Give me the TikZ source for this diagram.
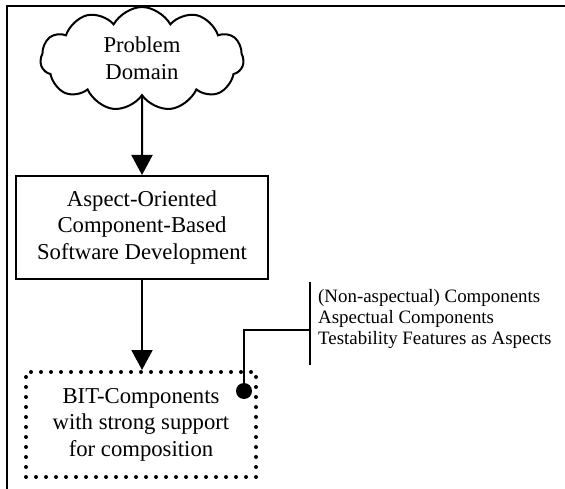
\documentclass[tikz,border=0pt]{standalone}
\usepackage{fontspec}
\setmainfont{Liberation Serif}
\usetikzlibrary{shapes.symbols,arrows.meta}
\begin{document}
\begin{tikzpicture}[x=1pt,y=-1pt,
  bigtext/.style={font=\fontsize{22.7}{26.5}\selectfont},
  smalltext/.style={font=\fontsize{18.9}{20.6}\selectfont},
  solidbox/.style={draw, line width=2pt, align=center, bigtext},
  dotbox/.style={draw, line width=4pt, line cap=round, dash pattern=on 0pt off 10pt, align=center, bigtext},
  flow/.style={line width=2pt, -{Triangle[width=21pt,length=20pt]}},
  wire/.style={line width=2pt}]
\useasboundingbox (0,0) rectangle (565,489);

% frame (top and left edges)
\coordinate (frTR) at (566,6);
\coordinate (frTL) at (7,6);
\coordinate (frBL) at (7,490);
\draw[wire] (frTR) -- (frTL) -- (frBL);

% problem domain cloud
\node[cloud, draw, line width=2pt, cloud puffs=11, cloud puff arc=115, cloud ignores aspect,
      minimum width=239pt, minimum height=110pt, inner sep=0pt,
      xscale=0.85, yscale=0.945] (domain) at (142,59) {};
\node[bigtext, align=center] (domaintext) at (142,58) {Problem\\Domain};

% development process box
\node[solidbox, minimum width=252pt, minimum height=103pt] (aocbsd) at (142,227.5)
  {Aspect-Oriented\\Component-Based\\Software Development};

% resulting components
\node[dotbox, minimum width=230pt, minimum height=105pt] (bit) at (141,424.5)
  {BIT-Components\\with strong support\\for composition};

\draw[flow] (domain.south) -- (aocbsd.north);
\draw[flow] (aocbsd.south) -- (bit.north -| aocbsd.south);

% composition pin and bracket
\node[circle, fill, minimum size=16pt, inner sep=0pt] (pin) at (244,391) {};
\coordinate (brk) at (310,330);
\coordinate (brktop) at (310,282);
\coordinate (brkbot) at (310,365);
\draw[wire] (pin.center) |- (brk);
\draw[wire] (brktop) -- (brkbot);

\node[smalltext, align=left, anchor=west, inner sep=0pt] (features) at (318,319)
  {(Non-aspectual) Components\\Aspectual Components\\Testability Features as Aspects};
\end{tikzpicture}
\end{document}
